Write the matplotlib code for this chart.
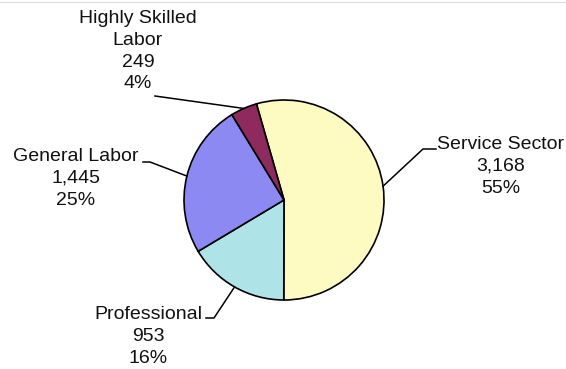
import numpy as np
import matplotlib.pyplot as plt

plt.rcParams['font.family'] = ['Liberation Sans', 'DejaVu Sans']

# workforce by category
categories = ['Service Sector', 'Professional', 'General Labor', 'Highly Skilled\nLabor']
counts = [3168, 953, 1445, 249]
pct_labels = ['55%', '16%', '25%', '4%']
colors = ['#FDFBC2', '#AEE4E8', '#8C8AF2', '#8E2A5E']

W, H = 566, 369
fig = plt.figure(figsize=(W / 100, H / 100), dpi=100)
ax = fig.add_axes([0, 0, 1, 1])

cx, cy, r = 284, H - 200, 100
start = 106
wedges, _ = ax.pie(counts, colors=colors, startangle=start, counterclock=False,
                   center=(cx, cy), radius=r, frame=True,
                   wedgeprops=dict(edgecolor='black', linewidth=1.2))
ax.set_xlim(0, W)
ax.set_ylim(0, H)
ax.axis('off')

# label block: (text x, text top y, leader points from text side), pixel coords from top
label_layout = [
    (501, 136, [(436, 149), (423, 149)]),
    (148, 306, [(206, 318), (214, 318)]),
    (76, 148, [(143, 162), (150, 162)]),
    (138, 10, [(155, 96)]),
]

for w, name, n, pct, (tx, ty, pts) in zip(wedges, categories, counts, pct_labels, label_layout):
    ax.text(tx, H - ty, f'{name}\n{n:,}\n{pct}', ha='center', va='top',
            fontsize=14, linespacing=1.37, color='#111111')
    mid = np.deg2rad((w.theta1 + w.theta2) / 2)
    ex, ey = cx + r * np.cos(mid), cy + r * np.sin(mid)
    xs = [p[0] for p in pts] + [ex]
    ys = [H - p[1] for p in pts] + [ey]
    ax.plot(xs, ys, color='black', linewidth=1.1)

# thin rule left over at the top edge
ax.axhline(H - 2, color='#dddddd', linewidth=0.8)

fig.savefig('out.png', dpi=100, facecolor='white')
